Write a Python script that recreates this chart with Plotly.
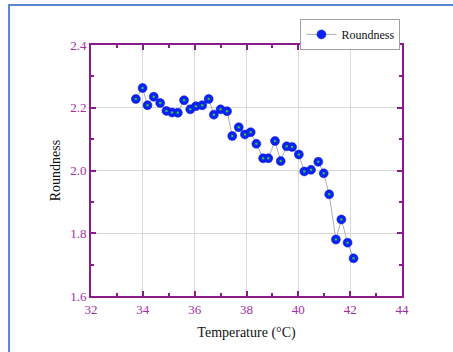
import plotly.graph_objects as go

temperature = [33.73, 33.99, 34.18, 34.42, 34.67, 34.91, 35.13, 35.35, 35.59, 35.83,
               36.05, 36.29, 36.54, 36.74, 37.00, 37.25, 37.45, 37.70, 37.94, 38.16,
               38.38, 38.64, 38.84, 39.10, 39.32, 39.55, 39.76, 40.02, 40.23, 40.49,
               40.77, 40.98, 41.19, 41.45, 41.66, 41.90, 42.13]
roundness = [2.228, 2.263, 2.208, 2.235, 2.215, 2.190, 2.185, 2.184, 2.224, 2.195,
             2.205, 2.208, 2.228, 2.178, 2.195, 2.189, 2.110, 2.138, 2.115, 2.122,
             2.085, 2.039, 2.039, 2.094, 2.030, 2.077, 2.075, 2.051, 1.997, 2.002,
             2.028, 1.991, 1.924, 1.780, 1.844, 1.770, 1.720]

x_ticks = [32, 34, 36, 38, 40, 42, 44]
y_ticks = [1.6, 1.8, 2.0, 2.2, 2.4]
y_tick_labels = ["1.6", "1.8", "2.0", "2.2", "2.4"]

serif = "Liberation Serif, Times New Roman, serif"
axis_col = "#8B1A8B"
label_col = "#A0309F"

fig = go.Figure()
fig.add_trace(go.Scatter(
    x=temperature, y=roundness, mode="lines+markers", name="Roundness",
    line=dict(color="#9a9a9a", width=0.8),
    marker=dict(color="#0a22f5", size=9, line=dict(color="#0a18d0", width=0.5)),
))
fig.add_trace(go.Scatter(
    x=temperature, y=roundness, mode="markers", showlegend=False, hoverinfo="skip",
    marker=dict(color="#2fc040", size=2.5),
))

axis_common = dict(
    showline=True, linecolor=axis_col, linewidth=2, mirror="ticks",
    ticks="inside", ticklen=5, tickwidth=1.5, tickcolor=axis_col,
    showgrid=True, gridcolor="#d9d9d9", gridwidth=1, zeroline=False,
    tickfont=dict(family=serif, size=13, color=label_col),
)

fig.update_xaxes(
    range=[32, 44], tickvals=x_ticks,
    minor=dict(dtick=1, ticks="inside", ticklen=3, tickcolor=axis_col, showgrid=False),
    title=dict(text="Temperature (°C)", font=dict(family=serif, size=14, color="#111"), standoff=12),
    **axis_common,
)
fig.update_yaxes(
    range=[1.6, 2.4], tickvals=y_ticks, ticktext=y_tick_labels,
    minor=dict(dtick=0.1, ticks="inside", ticklen=3, tickcolor=axis_col, showgrid=False),
    title=dict(text="Roundness", font=dict(family=serif, size=14, color="#111"), standoff=6),
    **axis_common,
)

# outer blue frame: only its left and top edges are inside the picture
fig.add_shape(type="path", xref="paper", yref="paper",
              path="M -0.2635,-0.225 L -0.2635,1.1596 L 1.165,1.1596",
              line=dict(color="#5b85d0", width=2), layer="above")

fig.update_layout(
    width=453, height=352,
    margin=dict(l=91, r=51, t=45, b=56),
    paper_bgcolor="white", plot_bgcolor="white",
    showlegend=True,
    legend=dict(x=0.995, y=1.104, xanchor="right", yanchor="top",
                bordercolor="#a0a0a0", borderwidth=1, bgcolor="white",
                font=dict(family=serif, size=12, color="#111"),
                itemwidth=30, tracegroupgap=0),
)

fig.write_html(
    "out.html",
    config={"displayModeBar": False},
    post_script="document.body.style.margin='0';document.body.style.overflow='hidden';",
)
